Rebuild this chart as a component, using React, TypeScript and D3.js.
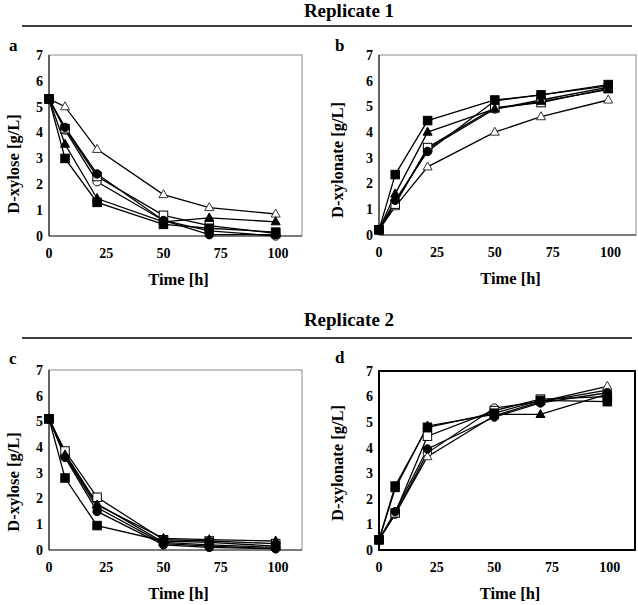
import React from "react";
import * as d3 from "d3";

const times = [0, 7, 21, 50, 70, 99];
const xTicks = [0, 25, 50, 75, 100];
const yTicks = [0, 1, 2, 3, 4, 5, 6, 7];
const markerTypes = ["fsq", "ftri", "fcirc", "osq", "otri", "ocirc"];
const drawOrder = [5, 4, 3, 2, 1, 0];

// Replicate 1, D-xylose
const xyloseR1 = [
  [5.3, 3.0, 1.3, 0.45, 0.3, 0.15],
  [5.3, 3.55, 1.45, 0.55, 0.7, 0.55],
  [5.3, 4.2, 2.4, 0.6, 0.05, 0.05],
  [5.3, 4.15, 2.3, 0.8, 0.4, 0.1],
  [5.3, 5.0, 3.35, 1.6, 1.1, 0.85],
  [5.3, 4.1, 2.1, 0.6, 0.2, 0.0],
];
// Replicate 1, D-xylonate
const xylonateR1 = [
  [0.2, 2.35, 4.45, 5.25, 5.45, 5.85],
  [0.2, 1.6, 4.0, 4.9, 5.2, 5.65],
  [0.2, 1.35, 3.25, 5.22, 5.45, 5.8],
  [0.2, 1.2, 3.4, 4.95, 5.15, 5.7],
  [0.2, 1.1, 2.65, 4.0, 4.6, 5.25],
  [0.2, 1.25, 3.35, 4.9, 5.25, 5.75],
];
// Replicate 2, D-xylose
const xyloseR2 = [
  [5.1, 2.8, 0.95, 0.35, 0.3, 0.15],
  [5.1, 3.7, 1.75, 0.45, 0.4, 0.35],
  [5.1, 3.6, 1.5, 0.2, 0.1, 0.05],
  [5.1, 3.85, 2.05, 0.4, 0.35, 0.25],
  [5.1, 3.75, 1.8, 0.3, 0.2, 0.1],
  [5.1, 3.65, 1.65, 0.25, 0.15, 0.05],
];
// Replicate 2, D-xylonate
const xylonateR2 = [
  [0.4, 2.5, 4.8, 5.35, 5.85, 5.8],
  [0.4, 2.4, 4.85, 5.3, 5.3, 6.1],
  [0.4, 1.5, 3.95, 5.2, 5.75, 6.15],
  [0.4, 1.45, 4.45, 5.45, 5.9, 6.0],
  [0.4, 1.4, 3.65, 5.25, 5.8, 6.4],
  [0.4, 1.4, 3.8, 5.55, 5.8, 6.25],
];

const FONT = "'Liberation Serif', 'Times New Roman', serif";

type PanelProps = {
  letter: string;
  yLabel: string;
  data: number[][];
  left: number;
  right: number;
  top: number;
  bottom: number;
  xMax: number;
  labelX: number;
  labelY: number;
  yLabelX: number;
  yLabelY: number;
  heavy?: boolean;
};

function Marker({ type, x, y }: { type: string; x: number; y: number }) {
  const s = 8.5;
  const filled = type.startsWith("f");
  const fill = filled ? "#000" : "#fff";
  const stroke = "#000";
  if (type.endsWith("sq")) {
    return <rect x={x - s / 2} y={y - s / 2} width={s} height={s} fill={fill} stroke={stroke} strokeWidth={1} />;
  }
  if (type.endsWith("tri")) {
    const h = 8;
    const w = 9;
    const p = `${x},${y - h * 0.62} ${x + w / 2},${y + h * 0.38} ${x - w / 2},${y + h * 0.38}`;
    return <polygon points={p} fill={fill} stroke={filled ? stroke : "#333"} strokeWidth={1} />;
  }
  return <circle cx={x} cy={y} r={4.2} fill={fill} stroke={stroke} strokeWidth={1} />;
}

function Panel(p: PanelProps) {
  const x = d3.scaleLinear().domain([0, p.xMax]).range([p.left, p.right]);
  const y = d3.scaleLinear().domain([0, 7]).range([p.bottom, p.top]);
  const line = d3
    .line<number>()
    .x((_, i) => x(times[i]))
    .y((v) => y(v));
  const cx = (p.left + p.right) / 2;
  return (
    <g>
      <text x={p.labelX} y={p.labelY} fontFamily={FONT} fontWeight="bold" fontSize={17}>
        {p.letter}
      </text>
      {p.heavy ? (
        <rect x={p.left} y={p.top} width={p.right - p.left} height={p.bottom - p.top} fill="none" stroke="#000" strokeWidth={2} />
      ) : (
        <g>
          <rect x={p.left} y={p.top} width={p.right - p.left} height={p.bottom - p.top} fill="none" stroke="#8a8a8a" strokeWidth={1} />
          <line x1={p.left} x2={p.left} y1={p.top} y2={p.bottom} stroke="#000" strokeWidth={1} />
          <line x1={p.left} x2={p.right} y1={p.bottom} y2={p.bottom} stroke="#333" strokeWidth={1} />
        </g>
      )}
      {yTicks.map((t) => (
        <text key={"y" + t} x={p.left - 6} y={y(t)} dy="0.35em" textAnchor="end" fontFamily={FONT} fontWeight="bold" fontSize={14}>
          {t}
        </text>
      ))}
      {xTicks.map((t) => (
        <text key={"x" + t} x={x(t)} y={p.bottom + 22} textAnchor="middle" fontFamily={FONT} fontWeight="bold" fontSize={14}>
          {t}
        </text>
      ))}
      <text x={cx + 3} y={p.bottom + 49} textAnchor="middle" fontFamily={FONT} fontWeight="bold" fontSize={16.5}>
        Time [h]
      </text>
      <text
        transform={`translate(${p.yLabelX},${p.yLabelY}) rotate(-90)`}
        textAnchor="middle"
        fontFamily={FONT}
        fontWeight="bold"
        fontSize={16.5}
      >
        {p.yLabel}
      </text>
      {drawOrder.map((i) => (
        <path key={"l" + i} d={line(p.data[i]) || ""} fill="none" stroke="#000" strokeWidth={1.3} />
      ))}
      {drawOrder.map((i) =>
        p.data[i].map((v, j) => <Marker key={`m${i}-${j}`} type={markerTypes[i]} x={x(times[j])} y={y(v)} />)
      )}
    </g>
  );
}

export default function App() {
  return (
    <svg width={638} height={605} style={{ position: "absolute", left: 0, top: 0, background: "#fff" }}>
      <rect width={638} height={605} fill="#fff" />
      <text x={349} y={17} textAnchor="middle" fontFamily={FONT} fontWeight="bold" fontSize={19}>
        Replicate 1
      </text>
      <line x1={22} x2={632} y1={26} y2={26} stroke="#000" strokeWidth={1.6} />
      <text x={349} y={326} textAnchor="middle" fontFamily={FONT} fontWeight="bold" fontSize={19}>
        Replicate 2
      </text>
      <line x1={22} x2={632} y1={338} y2={338} stroke="#000" strokeWidth={1.6} />

      <Panel letter="a" yLabel="D-xylose [g/L]" data={xyloseR1} left={49} right={302} top={55} bottom={236} xMax={110.5}
        labelX={9} labelY={51} yLabelX={19} yLabelY={164} />
      <Panel letter="b" yLabel="D-xylonate [g/L]" data={xylonateR1} left={379} right={636} top={55} bottom={235} xMax={111}
        labelX={335} labelY={51} yLabelX={343} yLabelY={160} />
      <Panel letter="c" yLabel="D-xylose [g/L]" data={xyloseR2} left={49} right={302} top={370} bottom={550} xMax={110.5}
        labelX={9} labelY={364} yLabelX={19} yLabelY={482} />
      <Panel letter="d" yLabel="D-xylonate [g/L]" data={xylonateR2} left={379} right={635} top={371} bottom={550} xMax={111}
        labelX={335} labelY={363} yLabelX={343} yLabelY={463} heavy />
    </svg>
  );
}
